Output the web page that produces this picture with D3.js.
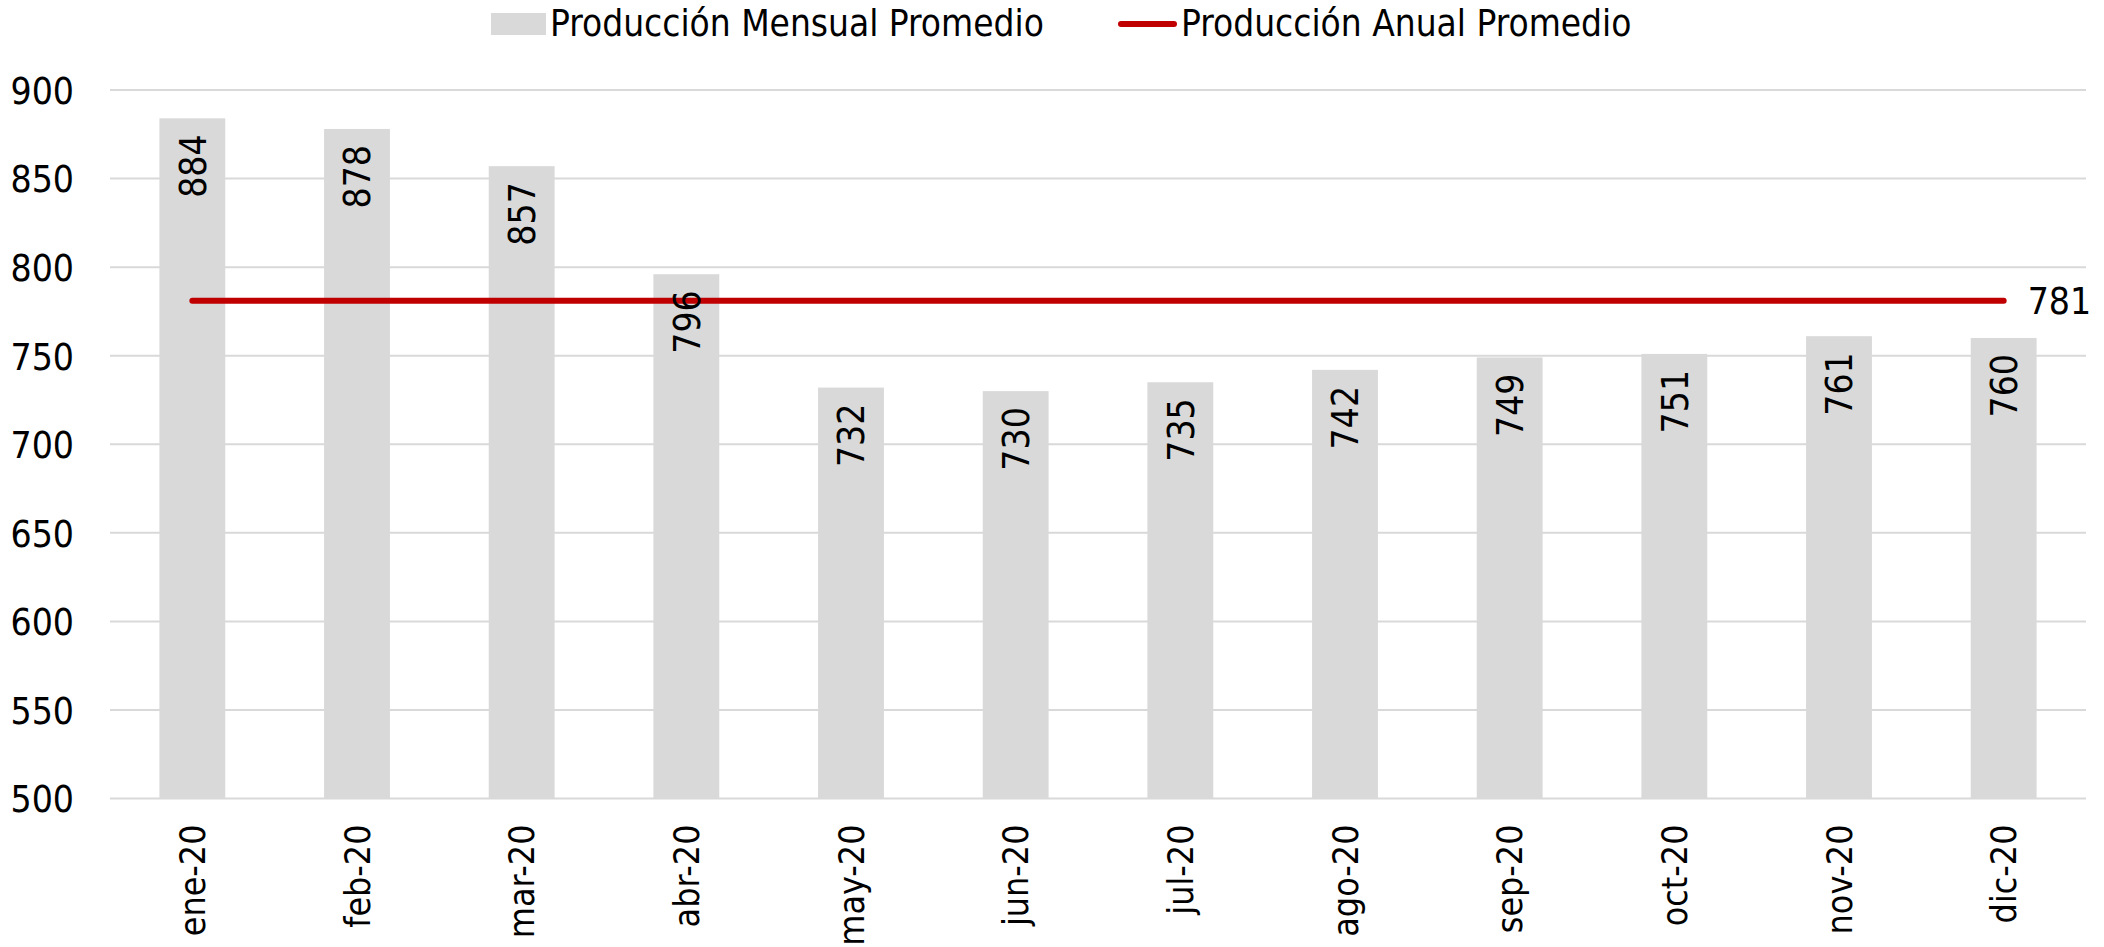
<!DOCTYPE html>
<html>
<head>
<meta charset="utf-8">
<script src="https://cdn.jsdelivr.net/npm/d3@7"></script>
<style>
    body { margin: 0; background: #fff; }
    text { font-family: Tahoma, "DejaVu Sans Condensed", "DejaVu Sans", sans-serif; font-stretch: condensed; fill: #000; }
</style>
</head>
<body>
<div id="chart"></div>
<script>
// monthly average production (bars) and annual average (line)
const months = ["ene-20", "feb-20", "mar-20", "abr-20", "may-20", "jun-20", "jul-20", "ago-20", "sep-20", "oct-20", "nov-20", "dic-20"];
const monthly = [884, 878, 857, 796, 732, 730, 735, 742, 749, 751, 761, 760];
const annual = [781, 781, 781, 781, 781, 781, 781, 781, 781, 781, 781, 781];
const yTicks = [500, 550, 600, 650, 700, 750, 800, 850, 900];
const seriesNames = ["Producción Mensual Promedio", "Producción Anual Promedio"];

var width = 2104, height = 947;
var fontSize = 37;

var svg = d3.select("#chart")
    .append("svg")
    .attr("width", width)
    .attr("height", height)
    .style("display", "block");

var xScale = d3.scaleBand()
    .domain(months)
    .range([110, 2086])
    .paddingInner(0.6)
    .paddingOuter(0.3);

var yScale = d3.scaleLinear()
    .domain([500, 900])
    .range([798.5, 90]);

// gridlines
svg.append("g")
    .selectAll("line")
    .data(yTicks)
    .join("line")
    .attr("x1", 110)
    .attr("x2", 2086)
    .attr("y1", d => yScale(d))
    .attr("y2", d => yScale(d))
    .style("stroke", "#d9d9d9")
    .style("stroke-width", 2);

// y axis labels
var yAxis = d3.axisLeft(yScale).tickValues(yTicks).tickSize(0).tickPadding(0);
var yG = svg.append("g")
    .attr("transform", "translate(74,0)")
    .call(yAxis);
yG.select(".domain").remove();
yG.selectAll("text")
    .attr("dy", "0.36em")
    .style("font-size", fontSize + "px")
    .style("font-family", null)
    .attr("fill", "#000");

// bars
svg.append("g")
    .selectAll("rect")
    .data(monthly)
    .join("rect")
    .attr("x", (d, i) => xScale(months[i]))
    .attr("width", xScale.bandwidth())
    .attr("y", d => yScale(d))
    .attr("height", d => yScale(500) - yScale(d))
    .style("fill", "#d9d9d9");

// x axis labels, rotated
var xAxis = d3.axisBottom(xScale).tickSize(0).tickPadding(0);
var xG = svg.append("g")
    .attr("transform", "translate(0,798.5)")
    .call(xAxis);
xG.select(".domain").remove();
xG.selectAll("text")
    .attr("transform", "translate(0,26) rotate(-90)")
    .attr("x", 0)
    .attr("y", 0)
    .attr("dy", "0.36em")
    .attr("text-anchor", "end")
    .style("font-size", "35.5px")
    .style("font-family", null)
    .attr("fill", "#000");

// annual average line
var line = d3.line()
    .x((d, i) => xScale(months[i]) + xScale.bandwidth() / 2)
    .y(d => yScale(d));

svg.append("path")
    .datum(annual)
    .attr("d", line)
    .style("fill", "none")
    .style("stroke", "#c00000")
    .style("stroke-width", 6)
    .style("stroke-linecap", "round");

// bar value labels, inside end
svg.append("g")
    .selectAll("text")
    .data(monthly)
    .join("text")
    .attr("transform", (d, i) => "translate(" + (xScale(months[i]) + xScale.bandwidth() / 2) + "," + (yScale(d) + 16) + ") rotate(-90)")
    .attr("dy", "0.36em")
    .attr("text-anchor", "end")
    .style("font-size", fontSize + "px")
    .text(d => d);

// label for the annual line (last point)
var last = annual.length - 1;
svg.append("text")
    .attr("x", xScale(months[last]) + xScale.bandwidth() / 2 + 24)
    .attr("y", yScale(annual[last]))
    .attr("dy", "0.36em")
    .style("font-size", fontSize + "px")
    .text(annual[last]);

// legend
var legend = svg.append("g");
legend.append("rect")
    .attr("x", 491)
    .attr("y", 13)
    .attr("width", 55)
    .attr("height", 22)
    .style("fill", "#d9d9d9");
legend.append("text")
    .attr("x", 550)
    .attr("y", 36)
    .style("font-size", "36.7px")
    .text(seriesNames[0]);
legend.append("line")
    .attr("x1", 1121)
    .attr("x2", 1174)
    .attr("y1", 24)
    .attr("y2", 24)
    .style("stroke", "#c00000")
    .style("stroke-width", 6)
    .style("stroke-linecap", "round");
legend.append("text")
    .attr("x", 1181)
    .attr("y", 36)
    .style("font-size", "36.7px")
    .text(seriesNames[1]);
</script>
</body>
</html>
